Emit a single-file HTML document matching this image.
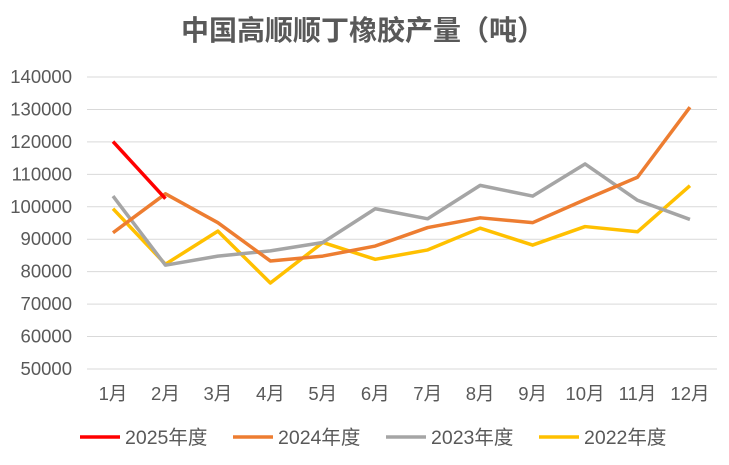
<!DOCTYPE html>
<html><head><meta charset="utf-8"><style>
body{margin:0;background:#fff}
svg text{font-family:"Liberation Sans","Noto Sans CJK SC",sans-serif;fill:#595959}
</style></head><body>
<svg id="c" width="729" height="460"></svg>
<script>
const months=['1月','2月','3月','4月','5月','6月','7月','8月','9月','10月','11月','12月'];
const yTicks=[50000,60000,70000,80000,90000,100000,110000,120000,130000,140000];
const s2025=[120100,102500];
const s2024=[92000,104000,95100,83300,84800,87900,93600,96600,95100,102200,109100,130700];
const s2023=[103300,82000,84800,86400,89000,99400,96300,106600,103300,113200,102000,96100];
const s2022=[99400,82300,92500,76500,89000,83800,86700,93400,88200,93900,92300,106500];
const seriesNames=['2025年度','2024年度','2023年度','2022年度'];
const colors=['#ff0000','#ed7d31','#a5a5a5','#ffc000'];
const NS='http://www.w3.org/2000/svg';
const svg=document.getElementById('c');
function el(t,a,p){const e=document.createElementNS(NS,t);for(const k in a)e.setAttribute(k,a[k]);(p||svg).appendChild(e);return e;}
const y=v=>369-(v-50000)/90000*292;
const x=i=>113+i*52.45;
let t=el('text',{x:363,y:40,'text-anchor':'middle','font-size':28,'font-weight':'bold'});
t.textContent='中国高顺顺丁橡胶产量（吨）';


yTicks.forEach(v=>{
  const g=el('line',{x1:87,x2:717,y1:y(v),y2:y(v),stroke:'#d9d9d9','stroke-width':1});
  
  
  const l=el('text',{x:72,y:y(v)+6,'text-anchor':'end','font-size':18.5});
  l.textContent=v;
  
  
});
months.forEach((m,i)=>{
  const l=el('text',{x:x(i),y:400,'text-anchor':'middle','font-size':18.5});
  l.textContent=m;
  
  
});
const all=[s2025,s2024,s2023,s2022];
for(let k=3;k>=0;k--){
  const p=el('polyline',{points:all[k].map((v,i)=>x(i)+','+y(v)).join(' '),fill:'none',stroke:colors[k],'stroke-width':3.5,'stroke-linejoin':'round'});
  
  
}
const lx=[80,233,386,539];
seriesNames.forEach((n,k)=>{
  const g=el('g',{});
  
  
  el('line',{x1:lx[k],x2:lx[k]+40,y1:437,y2:437,stroke:colors[k],'stroke-width':3.5},g);
  const tt=el('text',{x:lx[k]+45,y:444,'font-size':19.5},g);
  tt.textContent=n;
});
</script>
</body></html>
